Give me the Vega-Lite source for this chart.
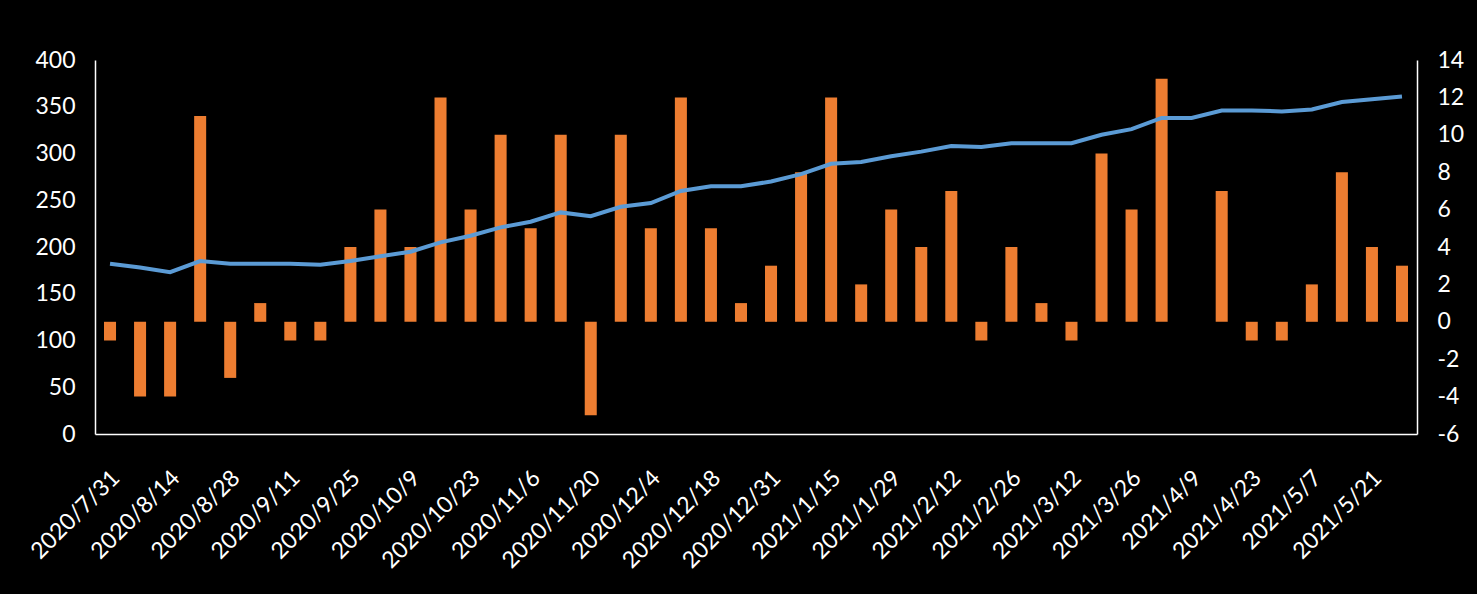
{
  "$schema": "https://vega.github.io/schema/vega-lite/v6.json",
  "background": "#000000",
  "autosize": {"type": "none"},
  "padding": {"left": 95, "top": 60, "right": 60, "bottom": 160},
  "width": 1322,
  "height": 374,
  "config": {
    "view": {"stroke": null},
    "axis": {
      "domainColor": "#ffffff",
      "domainWidth": 1.5,
      "ticks": false,
      "grid": false,
      "labelColor": "#ffffff",
      "labelFont": "Lato",
      "labelFontSize": 23,
      "title": null
    }
  },
  "data": {
    "values": [
      {"date": "2020/7/31", "val": 182, "chg": -1},
      {"date": "2020/8/7", "val": 178, "chg": -4},
      {"date": "2020/8/14", "val": 173, "chg": -4},
      {"date": "2020/8/21", "val": 185, "chg": 11},
      {"date": "2020/8/28", "val": 182, "chg": -3},
      {"date": "2020/9/4", "val": 182, "chg": 1},
      {"date": "2020/9/11", "val": 182, "chg": -1},
      {"date": "2020/9/18", "val": 181, "chg": -1},
      {"date": "2020/9/25", "val": 185, "chg": 4},
      {"date": "2020/10/2", "val": 190, "chg": 6},
      {"date": "2020/10/9", "val": 195, "chg": 4},
      {"date": "2020/10/16", "val": 205, "chg": 12},
      {"date": "2020/10/23", "val": 212, "chg": 6},
      {"date": "2020/10/30", "val": 221, "chg": 10},
      {"date": "2020/11/6", "val": 227, "chg": 5},
      {"date": "2020/11/13", "val": 237, "chg": 10},
      {"date": "2020/11/20", "val": 233, "chg": -5},
      {"date": "2020/11/27", "val": 243, "chg": 10},
      {"date": "2020/12/4", "val": 247, "chg": 5},
      {"date": "2020/12/11", "val": 260, "chg": 12},
      {"date": "2020/12/18", "val": 265, "chg": 5},
      {"date": "2020/12/25", "val": 265, "chg": 1},
      {"date": "2020/12/31", "val": 270, "chg": 3},
      {"date": "2021/1/8", "val": 278, "chg": 8},
      {"date": "2021/1/15", "val": 289, "chg": 12},
      {"date": "2021/1/22", "val": 291, "chg": 2},
      {"date": "2021/1/29", "val": 297, "chg": 6},
      {"date": "2021/2/5", "val": 302, "chg": 4},
      {"date": "2021/2/12", "val": 308, "chg": 7},
      {"date": "2021/2/19", "val": 307, "chg": -1},
      {"date": "2021/2/26", "val": 311, "chg": 4},
      {"date": "2021/3/5", "val": 311, "chg": 1},
      {"date": "2021/3/12", "val": 311, "chg": -1},
      {"date": "2021/3/19", "val": 320, "chg": 9},
      {"date": "2021/3/26", "val": 326, "chg": 6},
      {"date": "2021/4/2", "val": 338, "chg": 13},
      {"date": "2021/4/9", "val": 338, "chg": 0},
      {"date": "2021/4/16", "val": 346, "chg": 7},
      {"date": "2021/4/23", "val": 346, "chg": -1},
      {"date": "2021/4/30", "val": 345, "chg": -1},
      {"date": "2021/5/7", "val": 347, "chg": 2},
      {"date": "2021/5/14", "val": 355, "chg": 8},
      {"date": "2021/5/21", "val": 358, "chg": 4},
      {"date": "2021/5/28", "val": 361, "chg": 3}
    ]
  },
  "encoding": {
    "x": {
      "field": "date",
      "type": "nominal",
      "sort": null,
      "scale": {"paddingInner": 0.6, "paddingOuter": 0.3},
      "axis": {
        "labelAngle": -45,
        "labelAlign": "right",
        "labelBaseline": "middle",
        "labelPadding": 40,
        "labelOffset": 6,
        "labelFontSize": 23,
        "values": ["2020/7/31", "2020/8/14", "2020/8/28", "2020/9/11", "2020/9/25", "2020/10/9", "2020/10/23", "2020/11/6", "2020/11/20", "2020/12/4", "2020/12/18", "2020/12/31", "2021/1/15", "2021/1/29", "2021/2/12", "2021/2/26", "2021/3/12", "2021/3/26", "2021/4/9", "2021/4/23", "2021/5/7", "2021/5/21"]
      }
    }
  },
  "layer": [
    {
      "mark": {"type": "bar", "color": "#ED7D31"},
      "encoding": {
        "y": {
          "field": "chg",
          "type": "quantitative",
          "scale": {"domain": [-6, 14], "nice": false},
          "axis": {"orient": "right", "values": [-6, -4, -2, 0, 2, 4, 6, 8, 10, 12, 14], "labelPadding": 20, "labelExpr": "'' + datum.value"}
        }
      }
    },
    {
      "mark": {"type": "line", "color": "#5B9BD5", "strokeWidth": 4},
      "encoding": {
        "y": {
          "field": "val",
          "type": "quantitative",
          "scale": {"domain": [0, 400], "nice": false},
          "axis": {"orient": "left", "values": [0, 50, 100, 150, 200, 250, 300, 350, 400], "labelPadding": 20}
        }
      }
    }
  ],
  "resolve": {"scale": {"y": "independent"}, "axis": {"y": "independent"}}
}
